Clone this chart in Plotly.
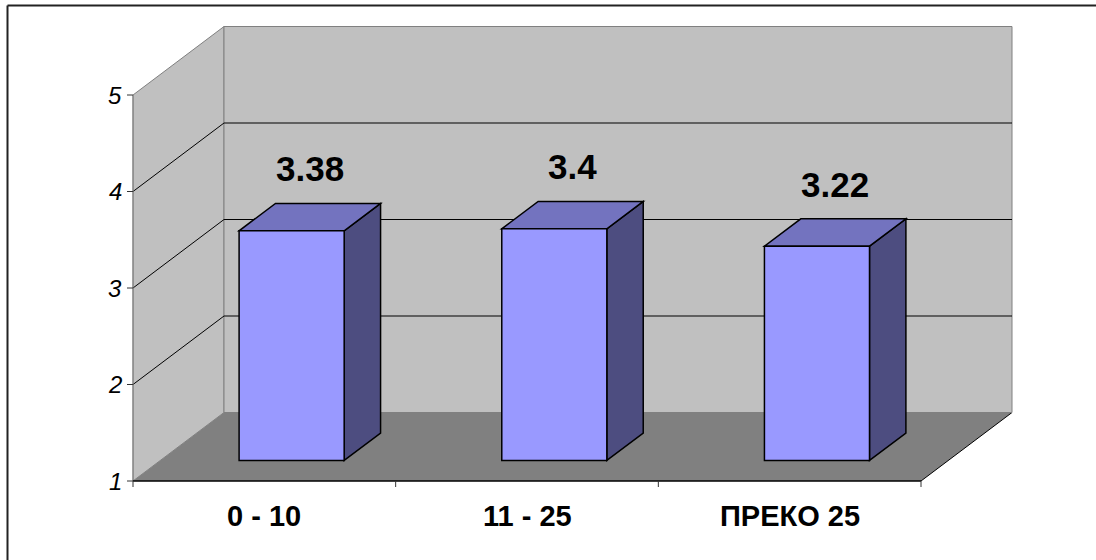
import plotly.graph_objects as go

# ---- data ----
categories = ["0 - 10", "11 - 25", "ПРЕКО 25"]
values = [3.38, 3.4, 3.22]
value_labels = ["3.38", "3.4", "3.22"]
y_ticks = [1, 2, 3, 4, 5]
y_tick_labels = ["1", "2", "3", "4", "5"]

# ---- geometry / style (pixel calibration) ----
W, H = 1096, 560
X0_PX, Y1_PX = 133, 481          # front-left origin pixel
PX_PER_X = 788 / 3               # pixels per category unit
PX_PER_Y = 96.5                  # pixels per value unit
DX = 91 / PX_PER_X               # full depth offset (x units)
DY = 68.5 / PX_PER_Y             # full depth offset (y units)
YMIN, YMAX = 1, 5
N = len(categories)
F0, F1 = 0.3, 0.7                # bar depth (front/back fraction)
HALF_W = 0.2                     # bar half width (category units)

FRONT, TOP, SIDE = "#9999FF", "#7373BF", "#4D4D80"
WALL, FLOOR, EDGE = "#C0C0C0", "#808080", "#808080"
FONT = "Arial, Liberation Sans, sans-serif"

fig = go.Figure()
fig.add_trace(go.Scatter(x=[0], y=[1], mode="markers", marker=dict(opacity=0),
                         hoverinfo="skip", showlegend=False))

shapes = []


def poly(pts, fill, line_color, width=1):
    path = "M " + " L ".join(f"{x},{y}" for x, y in pts) + " Z"
    shapes.append(dict(type="path", path=path, xref="x", yref="y",
                       fillcolor=fill, line=dict(color=line_color, width=width)))


def seg(x0, y0, x1, y1, color, width=1, xref="x", yref="y"):
    shapes.append(dict(type="line", x0=x0, y0=y0, x1=x1, y1=y1, xref=xref, yref=yref,
                       line=dict(color=color, width=width)))


# walls and floor
poly([(0, YMIN), (0, YMAX), (DX, YMAX + DY), (DX, YMIN + DY)], WALL, EDGE)
poly([(DX, YMIN + DY), (N + DX, YMIN + DY), (N + DX, YMAX + DY), (DX, YMAX + DY)], WALL, EDGE)
poly([(0, YMIN), (N, YMIN), (N + DX, YMIN + DY), (DX, YMIN + DY)], FLOOR, FLOOR, 0)
seg(N, YMIN, N + DX, YMIN + DY, "black", 1)
seg(DX, YMIN + DY, N + DX, YMIN + DY, EDGE, 1)

# gridlines
for v in y_ticks[1:-1]:
    seg(DX, v + DY, N + DX, v + DY, "black", 1)
    seg(0, v, DX, v + DY, "black", 1)

# axes
seg(0, YMIN, 0, YMAX, EDGE, 1)
seg(0, YMIN, N, YMIN, "black", 1.5)
tick_len_x = 6 / PX_PER_X
tick_len_y = 6 / PX_PER_Y
for v in y_ticks:
    seg(-tick_len_x, v, 0, v, "#333333", 1)
for i in range(N + 1):
    seg(i, YMIN, i, YMIN - tick_len_y, "#333333", 1)

# bars
annotations = []
for i, (cat, v, lab) in enumerate(zip(categories, values, value_labels)):
    c = i + 0.5
    xl0, xr0 = c - HALF_W + F0 * DX, c + HALF_W + F0 * DX
    xl1, xr1 = c - HALF_W + F1 * DX, c + HALF_W + F1 * DX
    yb0, yt0 = YMIN + F0 * DY, v + F0 * DY
    yb1, yt1 = YMIN + F1 * DY, v + F1 * DY
    poly([(xr0, yb0), (xr1, yb1), (xr1, yt1), (xr0, yt0)], SIDE, "black", 1.5)
    poly([(xl0, yt0), (xr0, yt0), (xr1, yt1), (xl1, yt1)], TOP, "black", 1.5)
    poly([(xl0, yb0), (xr0, yb0), (xr0, yt0), (xl0, yt0)], FRONT, "black", 1.5)
    annotations.append(dict(x=c + (F0 + F1) / 2 * DX, y=v + (F0 + F1) / 2 * DY + 0.5,
                            xref="x", yref="y", text=f"<b>{lab}</b>", showarrow=False,
                            font=dict(family=FONT, size=35, color="black"),
                            xanchor="center", yanchor="middle"))
    annotations.append(dict(x=c, y=YMIN, xref="x", yref="y", text=f"<b>{cat}</b>",
                            showarrow=False, yshift=-35,
                            font=dict(family=FONT, size=29, color="black"),
                            xanchor="center", yanchor="middle"))

for v, t in zip(y_ticks, y_tick_labels):
    annotations.append(dict(x=0, y=v, xref="x", yref="y", text=f"<i>{t}</i>",
                            showarrow=False, xshift=-9,
                            font=dict(family=FONT, size=24, color="black"),
                            xanchor="right", yanchor="middle"))

# outer frame (top and left visible)
seg(7.5 / W, 1 - 5.5 / H, 1.01, 1 - 5.5 / H, "#222222", 2, "paper", "paper")
seg(7.5 / W, 1 - 5.5 / H, 7.5 / W, -0.01, "#222222", 2, "paper", "paper")

fig.update_layout(
    width=W, height=H,
    margin=dict(l=0, r=0, t=0, b=0),
    paper_bgcolor="white", plot_bgcolor="white",
    xaxis=dict(range=[-X0_PX / PX_PER_X, (W - X0_PX) / PX_PER_X], visible=False,
               fixedrange=True),
    yaxis=dict(range=[1 - (H - Y1_PX) / PX_PER_Y, 1 + Y1_PX / PX_PER_Y], visible=False,
               fixedrange=True),
    shapes=shapes,
    annotations=annotations,
    showlegend=False,
)

fig.write_html("out.html", config={"displayModeBar": False})
